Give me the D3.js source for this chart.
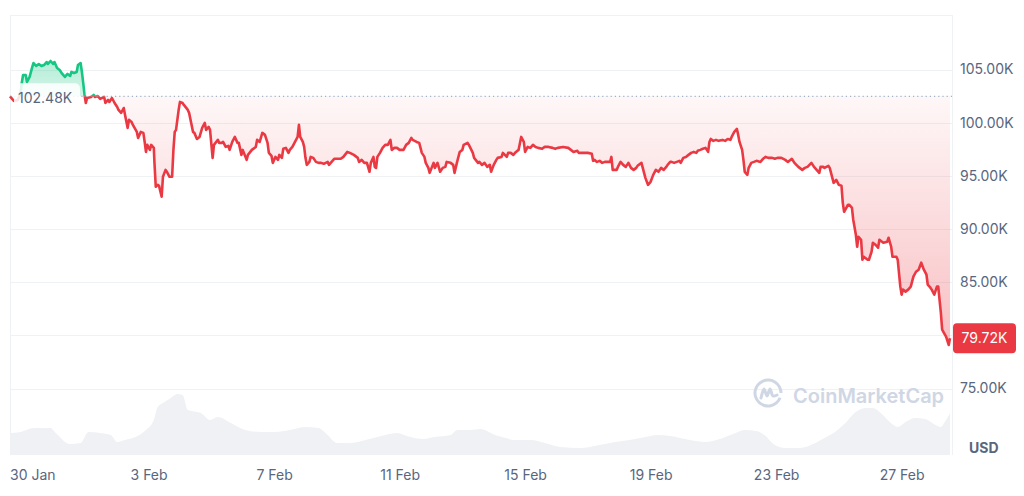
<!DOCTYPE html>
<html><head><meta charset="utf-8">
<script src="https://cdn.jsdelivr.net/npm/d3@7"></script>
<style>
html,body{margin:0;padding:0;background:#fff;}
svg{display:block;font-family:Inter,"Noto Sans",sans-serif;}
</style></head><body>
<svg id="chart" width="1024" height="496"></svg>
<script>
// ---------- DATA ----------
const baseDate = "2025-01-30";           // hours below are offsets from this date (00:00)
const hours = [-10,-7,-4,-2,-1,0,2,3,5,7,8,10,12,14,16,18,19,21,23,24,26,28,30,32,34,36,37,39,41,42,44,45,46,47,48,49,52,54,55,57,59,62,63,65,66,68,70,72,73,75,77,78,80,81,83,84,87,88,90,92,93,94,95,97,98,100,100.5,101.5,103,104,106,107,109,110,112,114,115,116,117,119,120,122,123,126,127,130,131,133,135,137,139,140,142,143,145,146,149,150,152,153,155,157,158,160,162,164,165,167,168,171,172,175,178,179,181,183,185,187,188,190,191,193,195,196,198,199,201,203,204,206,208,210,211,212,214,215,216,217,219,220,222,224,226,228,230,233,234,236,238,240,243,245,248,250,253,256,257,259,261,263,265,266,268,269,270,271,273,275,277,279,281,282,284,286,288,291,293,295,297,298,301,303,305,307,308,310,311,314,315,317,319,321,323,324,327,329,330,332,334,336,337,340,341,344,345,348,349,351,353,355,357,358,360,362,363,366,367,370,371,373,375,377,379,381,383,384,386,388,390,392,394,397,399,402,405,407,409,413,417,419,421,424,425,428,430,432,435,436,437,439,441,443,445,447,449,450,451,454,455,457,459,461,463,465,467,469,470,473,474,476,478,480,482,484,486,488,490,492,493,495,496,498,500,502,503,505,507,509,511,513,515,516,518,520,522,524,525,526,528,530,532,535,537,539,541,542,544,546,547,548,550,551,552,554,555,557,559,561,564,566,568,570,573,575,577,580,583,585,588,590,593,596,598,600,603,605,607,609,610,612,613,616,617,619,620,622,624,626,627,628,631,632,634,635,637,638,639,641,642,643,646,647,649,650,652,654,655,657,658,661,662,664,665,668,669,671,672,673,675,677,679,681,683,685,687,689,691,692,694,695,697,699,700,702,703,705,706,708,709];
const prices = [102.48,102.04,102.14,102.80,103.73,104.48,104.48,103.83,104.30,105.23,105.61,105.33,105.52,105.33,105.42,105.70,105.52,105.80,105.52,105.70,105.14,104.95,104.58,104.30,104.58,104.39,104.77,104.67,104.77,105.42,105.61,104.77,103.73,102.61,101.85,102.32,102.42,102.61,102.42,102.51,102.23,102.42,101.85,102.14,101.95,102.32,101.85,101.48,101.20,100.92,101.38,100.73,99.51,100.26,100.07,99.79,99.13,98.57,99.13,99.04,98.19,97.25,97.91,97.44,97.91,97.63,96.22,93.97,94.15,94.06,93.03,94.91,95.56,95.38,94.91,94.91,97.44,99.13,99.32,101.20,101.95,101.85,101.67,101.20,100.92,99.13,99.04,98.47,98.66,99.51,99.98,99.32,99.60,99.32,96.69,97.91,98.38,98.10,98.10,98.19,97.72,97.82,97.44,98.19,98.66,98.10,98.10,96.97,97.44,96.50,96.97,97.44,97.72,98.38,98.19,99.04,98.85,98.10,97.16,96.88,96.22,96.78,96.50,96.97,96.69,97.54,97.63,97.16,97.44,97.72,98.19,98.66,99.79,98.66,98.19,97.72,96.69,96.03,96.31,96.78,96.69,96.31,96.22,96.22,96.13,96.31,96.03,96.31,96.60,96.60,96.60,96.78,97.25,97.16,96.97,96.69,96.31,96.50,96.22,96.22,95.38,96.22,96.78,95.84,95.75,96.78,97.16,97.63,97.91,97.91,98.38,97.44,97.63,97.63,97.44,97.44,97.91,98.10,98.57,98.38,98.19,98.10,97.16,96.78,96.22,95.75,95.28,96.22,95.75,96.22,95.38,95.75,95.84,96.31,96.22,96.03,95.28,96.31,97.25,97.44,97.91,98.10,97.91,97.16,96.69,96.22,96.31,96.03,96.22,95.84,96.03,95.38,96.03,96.50,96.69,96.78,97.16,96.78,97.16,97.16,96.97,97.25,97.44,98.66,98.19,97.25,97.72,97.63,97.91,97.72,97.63,97.54,97.72,97.72,97.63,97.54,97.63,97.72,97.63,97.44,97.25,97.35,97.16,97.16,97.16,97.16,97.07,96.41,96.50,96.31,96.41,96.22,96.31,96.31,96.31,96.78,95.56,95.56,95.84,96.31,96.03,95.84,96.22,95.75,95.56,95.75,95.94,96.22,95.75,94.81,94.15,94.44,95.09,95.56,95.38,95.75,95.56,95.84,96.03,96.31,96.31,96.22,96.31,96.41,96.22,96.69,96.78,96.97,97.16,97.25,97.16,97.35,97.44,97.54,97.63,97.25,98.19,98.47,98.29,98.38,98.29,98.38,98.29,98.47,98.38,98.66,99.13,99.41,98.85,98.19,97.44,96.50,95.38,95.09,95.75,96.22,96.31,96.41,96.31,96.60,96.78,96.69,96.69,96.60,96.69,96.69,96.50,96.31,96.60,96.22,95.84,95.56,95.75,95.84,96.22,95.84,95.56,95.28,95.84,95.84,95.75,95.94,95.75,94.81,94.34,94.62,94.15,94.06,92.46,91.62,92.28,92.28,91.99,90.87,89.46,88.33,89.27,88.99,87.11,87.39,87.11,87.11,87.86,88.71,88.52,88.24,88.99,88.80,88.71,88.80,89.18,88.33,87.39,87.39,87.11,84.58,83.83,84.30,84.11,84.30,84.58,85.52,85.98,86.17,86.83,86.17,85.70,84.76,84.48,84.30,83.83,84.58,84.58,82.14,80.54,80.10,79.88,79.10,79.72];
const volHours = [-10,-2,8,21,25,36,44,50,59,67,72,78,86,94,100,103,107,113,118,122,126,136,143,149,159,170,182,193,204,216,226,233,240,250,262,277,286,296,306,315,327,332,342,350,361,369,376,388,399,411,426,441,453,464,476,485,495,510,522,533,545,552,561,567,575,583,594,606,613,621,629,636,644,650,656,663,669,675,682,690,698,702,705,709];
const volumes = [44,46,54,54,44,22,24,46,44,40,26,30,36,50,70,96,104,114,122,120,90,84,70,76,64,50,46,46,50,56,54,40,24,24,30,40,44,36,32,36,40,50,50,52,40,34,30,30,24,16,14,20,26,30,36,40,38,30,26,32,44,50,48,40,20,14,14,24,34,46,64,84,94,94,84,66,56,66,74,72,60,56,66,84]; // $B
const priceTicks = [75, 80, 85, 90, 95, 100, 105];   // K USD
const dateTicks = ["2025-01-30","2025-02-03","2025-02-07","2025-02-11","2025-02-15","2025-02-19","2025-02-23","2025-02-27"];
const openPrice = 102.48;
const lastPrice = 79.72;
const currencyLabel = "USD";
const brand = "CoinMarketCap";

// ---------- SETUP ----------
const RED = "#ea3943", GREEN = "#16c784", GRID = "#eff2f5", TXT = "#58667e";
const svg = d3.select("#chart");
const parseDay = d3.timeParse("%Y-%m-%d");
const t0 = parseDay(baseDate);
const toDate = h => new Date(t0.getTime() + h * 3600e3);
const data = hours.map((h, i) => ({ t: toDate(h), p: prices[i] }));
const vdata = volHours.map((h, i) => ({ t: toDate(h), v: volumes[i] }));

const L = 10, R = 952, TOP = 15, BOT = 455;
const x = d3.scaleTime().domain(d3.extent(data, d => d.t)).range([L, 950]);
const y = d3.scaleLinear().domain([75, 105]).range([388.5, 69.5]);
const yv = d3.scaleLinear().domain([0, 130]).range([BOT, 390]);
const yBase = y(openPrice);
const yl = y(lastPrice);

const defs = svg.append("defs");
const gr = defs.append("linearGradient").attr("id", "gRed").attr("gradientUnits", "userSpaceOnUse")
  .attr("x1", 0).attr("x2", 0).attr("y1", yBase).attr("y2", y(d3.min(prices)));
gr.append("stop").attr("offset", 0).attr("stop-color", RED).attr("stop-opacity", 0.04);
gr.append("stop").attr("offset", 1).attr("stop-color", RED).attr("stop-opacity", 0.32);
const gg = defs.append("linearGradient").attr("id", "gGreen").attr("gradientUnits", "userSpaceOnUse")
  .attr("x1", 0).attr("x2", 0).attr("y1", y(d3.max(prices))).attr("y2", yBase);
gg.append("stop").attr("offset", 0).attr("stop-color", GREEN).attr("stop-opacity", 0.32);
gg.append("stop").attr("offset", 1).attr("stop-color", GREEN).attr("stop-opacity", 0.18);
defs.append("clipPath").attr("id", "above").append("rect").attr("x", 0).attr("y", 0).attr("width", 1024).attr("height", yBase);
defs.append("clipPath").attr("id", "below").append("rect").attr("x", 0).attr("y", yBase).attr("width", 1024).attr("height", 496 - yBase);

// ---------- GRID / FRAME ----------
const grid = svg.append("g");
grid.selectAll("line.h").data(priceTicks).join("line")
  .attr("x1", L).attr("x2", R).attr("y1", d => Math.round(y(d)) + 0.5).attr("y2", d => Math.round(y(d)) + 0.5)
  .attr("stroke", GRID);
grid.append("line").attr("x1", L).attr("x2", R).attr("y1", TOP + 0.5).attr("y2", TOP + 0.5).attr("stroke", GRID);
grid.append("line").attr("x1", R + 0.5).attr("x2", R + 0.5).attr("y1", TOP).attr("y2", BOT).attr("stroke", GRID);
grid.append("line").attr("x1", L + 0.5).attr("x2", L + 0.5).attr("y1", TOP).attr("y2", BOT).attr("stroke", GRID);

// ---------- VOLUME ----------
svg.append("path").datum(vdata)
  .attr("d", d3.area().x(d => x(d.t)).y0(BOT).y1(d => yv(d.v)).curve(d3.curveMonotoneX))
  .attr("fill", "#eff1f4");

// ---------- WATERMARK ----------
const wm = svg.append("g").attr("fill", "#cfd6e4");
const cx = 768, cy = 393;
wm.append("path").attr("transform", `translate(${cx},${cy})`)
  .attr("d", d3.arc().innerRadius(11.5).outerRadius(14.5).startAngle(Math.PI * 0.62).endAngle(Math.PI * 2.5)());
wm.append("path")
  .attr("d", d3.line().curve(d3.curveCatmullRom)([[cx - 7, cy + 5], [cx - 4, cy - 4], [cx - 1, cy + 3], [cx + 2, cy - 4], [cx + 5, cy + 3], [cx + 9, cy + 2]]))
  .attr("fill", "none").attr("stroke", "#cfd6e4").attr("stroke-width", 3).attr("stroke-linecap", "round").attr("stroke-linejoin", "round");
wm.append("text").attr("x", 793).attr("y", 403).attr("font-size", 20).attr("font-weight", 600).text(brand);

// ---------- PRICE AREAS & LINES ----------
const area = d3.area().x(d => x(d.t)).y0(yBase).y1(d => y(d.p));
const line = d3.line().x(d => x(d.t)).y(d => y(d.p));
svg.append("path").datum(data).attr("d", area).attr("fill", "url(#gGreen)").attr("clip-path", "url(#above)");
svg.append("path").datum(data).attr("d", area).attr("fill", "url(#gRed)").attr("clip-path", "url(#below)");

svg.append("line").attr("x1", L).attr("x2", R).attr("y1", yBase).attr("y2", yBase)
  .attr("stroke", "#a6b0c3").attr("stroke-width", 1.2).attr("stroke-dasharray", "1.2 3");

svg.append("path").datum(data).attr("d", line).attr("fill", "none").attr("stroke", GREEN)
  .attr("stroke-width", 2.6).attr("stroke-linejoin", "round").attr("clip-path", "url(#above)");
svg.append("path").datum(data).attr("d", line).attr("fill", "none").attr("stroke", RED)
  .attr("stroke-width", 2.6).attr("stroke-linejoin", "round").attr("clip-path", "url(#below)");

// ---------- OPEN PRICE LABEL ----------
svg.append("rect").attr("x", 14).attr("y", yBase - 13).attr("width", 66).attr("height", 27).attr("rx", 5)
  .attr("fill", "#fff").attr("fill-opacity", 0.85);
svg.append("text").attr("x", 18).attr("y", yBase + 2).attr("dy", "0.35em").attr("font-size", 14)
  .attr("fill", TXT).text(openPrice.toFixed(2) + "K");

// ---------- AXES ----------
const yAxis = d3.axisRight(y).tickValues(priceTicks.filter(v => Math.abs(y(v) - yl) > 18))
  .tickFormat(d => d.toFixed(2) + "K").tickSize(0).tickPadding(8);
const gy = svg.append("g").attr("transform", `translate(${R},0)`).call(yAxis);
gy.select(".domain").remove();
gy.attr("font-family", null).attr("font-size", 14);
gy.selectAll("text").attr("fill", TXT);

const xAxis = d3.axisBottom(x).tickValues(dateTicks.map(parseDay)).tickFormat(d3.timeFormat("%-d %b")).tickSize(0).tickPadding(8);
const gx = svg.append("g").attr("transform", `translate(0,462)`).call(xAxis);
gx.select(".domain").remove();
gx.attr("font-family", null).attr("font-size", 14);
gx.selectAll("text").attr("fill", TXT).each(function () {
  const tick = this.parentNode;
  const tx = +tick.getAttribute("transform").match(/translate\(([-\d.]+)/)[1];
  const w = this.getComputedTextLength();
  if (tx - w / 2 < L) d3.select(this).attr("x", L - (tx - w / 2));
});

svg.append("text").attr("x", 969).attr("y", 453).attr("font-size", 14).attr("font-weight", 700)
  .attr("fill", TXT).text(currencyLabel);

// ---------- LAST PRICE LABEL ----------
svg.append("rect").attr("x", 953).attr("y", yl - 15).attr("width", 63).attr("height", 30).attr("rx", 4).attr("fill", RED);
svg.append("text").attr("x", 984.5).attr("y", yl).attr("dy", "0.35em").attr("text-anchor", "middle")
  .attr("font-size", 14).attr("fill", "#fff").text(lastPrice.toFixed(2) + "K");
</script>
</body></html>
